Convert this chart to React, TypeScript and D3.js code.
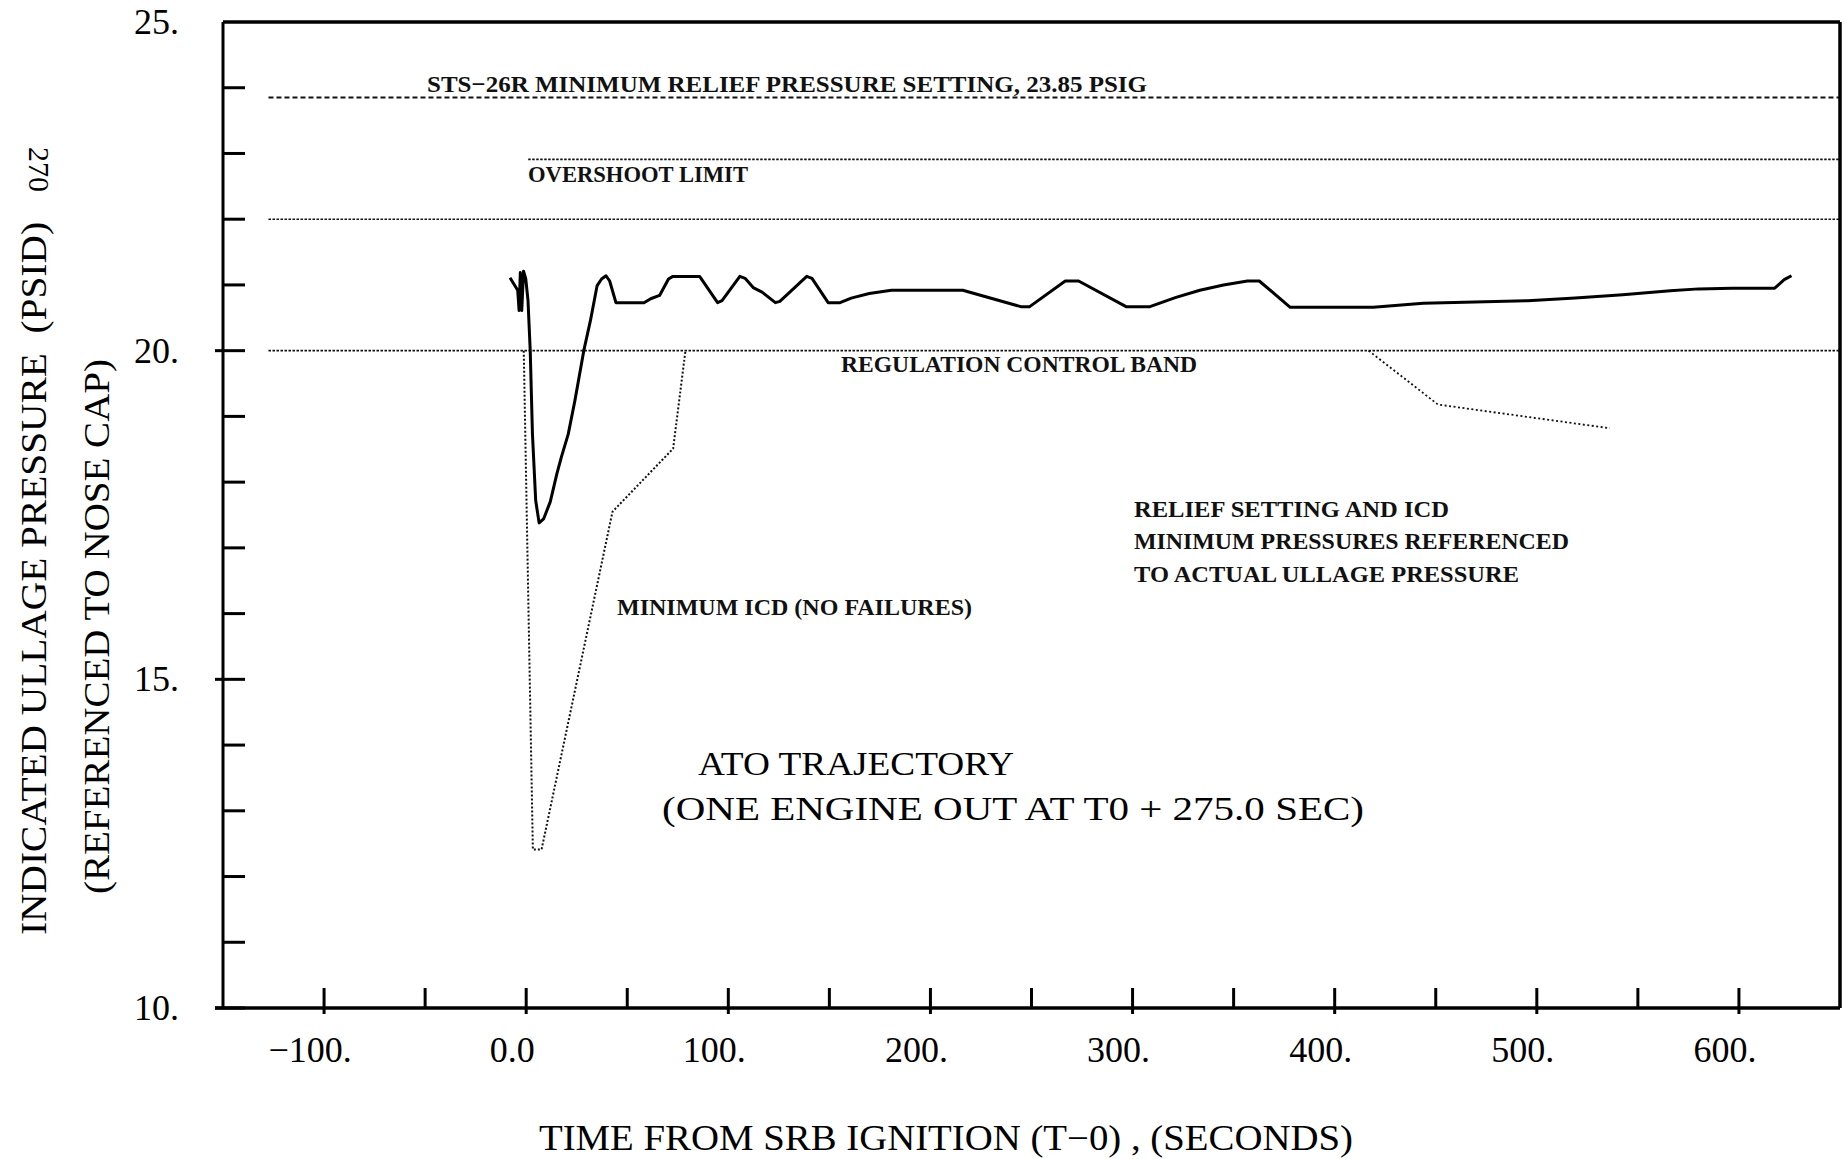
import React from 'react';
import * as d3 from 'd3';

// ---------- data ----------
const xDomain = [-150, 650];
const yDomain = [10, 25];

const xTickValues = [-100, -50, 0, 50, 100, 150, 200, 250, 300, 350, 400, 450, 500, 550, 600];
const xMajorTicks = [-100, 0, 100, 200, 300, 400, 500, 600];
const xTickLabels = ['\u2212100.', '0.0', '100.', '200.', '300.', '400.', '500.', '600.'];
const yTickValues = [10, 11, 12, 13, 14, 15, 16, 17, 18, 19, 20, 21, 22, 23, 24];
const yMajorTicks = [10, 15, 20, 25];
const yTickLabels = ['10.', '15.', '20.', '25.'];

// ullage pressure, ATO trajectory (time s, pressure psid)
const ullageTime = [
  -8, -4.2, -3.5, -2.9, -2.2, -1.3, -0.2, 0.9, 2.0, 3.1, 4.7, 6.4, 8.6, 11.9, 15.2, 17.4, 20.8,
  24.1, 28.5, 31.8, 35.1, 37.3, 39.5, 41.3, 44.4, 58.3, 61.6, 66, 70.4, 72.6, 85.8, 94.7, 96.9,
  105.7, 108.3, 112.3, 116.7, 123.3, 125.5, 138.8, 141.4, 149.4, 155.3, 160.8, 169.7, 180.7, 216,
  244.7, 249.1, 266.7, 273.3, 296.8, 308.6, 321.5, 333.3, 345, 356.8, 362.7, 378, 419.1, 443.8,
  495.5, 519, 542.5, 566, 580.1, 596.6, 617.7, 622.4, 626,
];
const ullagePressure = [
  21.11, 20.92, 20.61, 21.19, 20.61, 21.21, 21.09, 20.76, 20.0, 18.73, 17.72, 17.38, 17.44, 17.70,
  18.13, 18.38, 18.73, 19.24, 20.0, 20.46, 20.99, 21.09, 21.14, 21.06, 20.73, 20.73, 20.79, 20.84,
  21.09, 21.13, 21.13, 20.73, 20.76, 21.13, 21.1, 20.96, 20.89, 20.73, 20.75, 21.13, 21.1, 20.73,
  20.73, 20.80, 20.87, 20.92, 20.92, 20.67, 20.67, 21.06, 21.06, 20.67, 20.67, 20.81, 20.92, 21.0,
  21.06, 21.06, 20.66, 20.66, 20.72, 20.76, 20.80, 20.85, 20.91, 20.94, 20.95, 20.95, 21.08, 21.14,
];

// minimum ICD (no failures)
const icdEarlyTime = [-1.2, 3.3, 7.6, 42.7, 72.7, 78.8];
const icdEarlyPressure = [20.0, 12.41, 12.41, 17.55, 18.51, 20.0];
const icdLateTime = [416.8, 451.1, 536.1];
const icdLatePressure = [20.0, 19.18, 18.82];

// horizontal reference levels
const refNames = ['relief', 'overshoot', 'upper', 'lower'];
const refValues = [23.85, 22.91, 22.0, 20.0];
const refStart = [-127.5, 1, -127.5, -127.5];
const refEnd = [650, 650, 650, 650];

// ---------- layout ----------
const W = 1845;
const H = 1159;
const LEFT = 223;
const RIGHT = 1840;
const TOP = 22;
const BOTTOM = 1008;

const serif = "'Liberation Serif', 'DejaVu Serif', serif";

export default function App() {
  const x = d3.scaleLinear().domain(xDomain).range([LEFT, RIGHT]);
  const y = d3.scaleLinear().domain(yDomain).range([BOTTOM, TOP]);

  const line = d3
    .line<[number, number]>()
    .x((d) => x(d[0]))
    .y((d) => y(d[1]))
    .curve(d3.curveLinear);

  const ullage = line(ullageTime.map((t, i) => [t, ullagePressure[i]] as [number, number]));
  const icdEarly = line(icdEarlyTime.map((t, i) => [t, icdEarlyPressure[i]] as [number, number]));
  const icdLate = line(icdLateTime.map((t, i) => [t, icdLatePressure[i]] as [number, number]));

  const refStyle: Record<string, { dash: string; w: number }> = {
    relief: { dash: '5,3', w: 2 },
    overshoot: { dash: '2.5,1.5', w: 1.6 },
    upper: { dash: '2.5,1.5', w: 1.6 },
    lower: { dash: '2.5,1.5', w: 1.6 },
  };

  const annoStyle = { fontFamily: serif, fontWeight: 700 as const, fontSize: 24, fill: '#111' };

  return (
    <svg
      width={W}
      height={H}
      viewBox={`0 0 ${W} ${H}`}
      style={{ position: 'absolute', left: 0, top: 0, background: '#fff' }}
    >
      <rect x={0} y={0} width={W} height={H} fill="#fff" />

      {/* reference lines */}
      {refNames.map((n, i) => (
        <line
          key={n}
          x1={x(refStart[i])}
          x2={x(refEnd[i])}
          y1={y(refValues[i])}
          y2={y(refValues[i])}
          stroke="#111"
          strokeWidth={refStyle[n].w}
          strokeDasharray={refStyle[n].dash}
        />
      ))}

      {/* ICD dotted lines */}
      <path d={icdEarly || ''} fill="none" stroke="#111" strokeWidth={2} strokeDasharray="2,2" />
      <path d={icdLate || ''} fill="none" stroke="#111" strokeWidth={1.8} strokeDasharray="2,2.5" />

      {/* ullage pressure */}
      <path d={ullage || ''} fill="none" stroke="#000" strokeWidth={3} strokeLinejoin="round" />

      {/* frame */}
      <line x1={LEFT} x2={RIGHT} y1={TOP} y2={TOP} stroke="#000" strokeWidth={3.5} />
      <line x1={RIGHT} x2={RIGHT} y1={TOP} y2={BOTTOM} stroke="#000" strokeWidth={3.5} />
      <line x1={LEFT} x2={LEFT} y1={TOP} y2={BOTTOM} stroke="#000" strokeWidth={3} />
      <line x1={215} x2={RIGHT} y1={BOTTOM} y2={BOTTOM} stroke="#000" strokeWidth={3.5} />

      {/* y ticks */}
      {yTickValues.map((v) => {
        const major = yMajorTicks.includes(v);
        return (
          <line
            key={'yt' + v}
            x1={major ? LEFT - 8 : LEFT}
            x2={LEFT + 22}
            y1={y(v)}
            y2={y(v)}
            stroke="#000"
            strokeWidth={3}
          />
        );
      })}
      {yMajorTicks.map((v, i) => (
        <text
          key={'yl' + v}
          x={134}
          y={y(v) + 12}
          fontFamily={serif}
          fontSize={36}
          fill="#000"
        >
          {yTickLabels[i]}
        </text>
      ))}

      {/* x ticks */}
      {xTickValues.map((v) => {
        const major = xMajorTicks.includes(v);
        return (
          <line
            key={'xt' + v}
            x1={x(v)}
            x2={x(v)}
            y1={BOTTOM - 20}
            y2={major ? BOTTOM + 6 : BOTTOM}
            stroke="#000"
            strokeWidth={3}
          />
        );
      })}
      {xMajorTicks.map((v, i) => (
        <text
          key={'xl' + v}
          x={x(v) - 14}
          y={1062}
          textAnchor="middle"
          fontFamily={serif}
          fontSize={36}
          fill="#000"
        >
          {xTickLabels[i]}
        </text>
      ))}

      {/* axis titles */}
      <text
        x={539}
        y={1150}
        fontFamily={serif}
        fontSize={35}
        textLength={814}
        lengthAdjust="spacingAndGlyphs"
        fill="#000"
      >
        TIME FROM SRB IGNITION (T−0) , (SECONDS)
      </text>
      <text
        transform="translate(46,578.5) rotate(-90)"
        textAnchor="middle"
        fontFamily={serif}
        fontSize={35}
        textLength={713}
        lengthAdjust="spacingAndGlyphs"
        fill="#000"
        style={{ whiteSpace: 'pre' }}
      >
        {'INDICATED ULLAGE PRESSURE  (PSID)'}
      </text>
      <text
        transform="translate(109,626.5) rotate(-90)"
        textAnchor="middle"
        fontFamily={serif}
        fontSize={35}
        textLength={535}
        lengthAdjust="spacingAndGlyphs"
        fill="#000"
      >
        (REFERENCED TO NOSE CAP)
      </text>
      <text
        transform="translate(29,169.5) rotate(90)"
        textAnchor="middle"
        fontFamily={serif}
        fontSize={30}
        fill="#000"
      >
        270
      </text>

      {/* annotations */}
      <text x={427} y={92} {...annoStyle} textLength={720} lengthAdjust="spacingAndGlyphs">
        STS−26R MINIMUM RELIEF PRESSURE SETTING, 23.85 PSIG
      </text>
      <text x={528} y={182} {...annoStyle} textLength={220} lengthAdjust="spacingAndGlyphs">
        OVERSHOOT LIMIT
      </text>
      <text x={841} y={372} {...annoStyle} textLength={356} lengthAdjust="spacingAndGlyphs">
        REGULATION CONTROL BAND
      </text>
      <text x={617} y={615} {...annoStyle} textLength={355} lengthAdjust="spacingAndGlyphs">
        MINIMUM ICD (NO FAILURES)
      </text>
      <text x={1134} y={517} {...annoStyle} textLength={315} lengthAdjust="spacingAndGlyphs">
        RELIEF SETTING AND ICD
      </text>
      <text x={1134} y={549} {...annoStyle} textLength={435} lengthAdjust="spacingAndGlyphs">
        MINIMUM PRESSURES REFERENCED
      </text>
      <text x={1134} y={582} {...annoStyle} textLength={385} lengthAdjust="spacingAndGlyphs">
        TO ACTUAL ULLAGE PRESSURE
      </text>
      <text
        x={698}
        y={775}
        fontFamily={serif}
        fontSize={34}
        textLength={316}
        lengthAdjust="spacingAndGlyphs"
        fill="#000"
      >
        ATO TRAJECTORY
      </text>
      <text
        x={662}
        y={820}
        fontFamily={serif}
        fontSize={34}
        textLength={702}
        lengthAdjust="spacingAndGlyphs"
        fill="#000"
      >
        (ONE ENGINE OUT AT T0 + 275.0 SEC)
      </text>
    </svg>
  );
}
